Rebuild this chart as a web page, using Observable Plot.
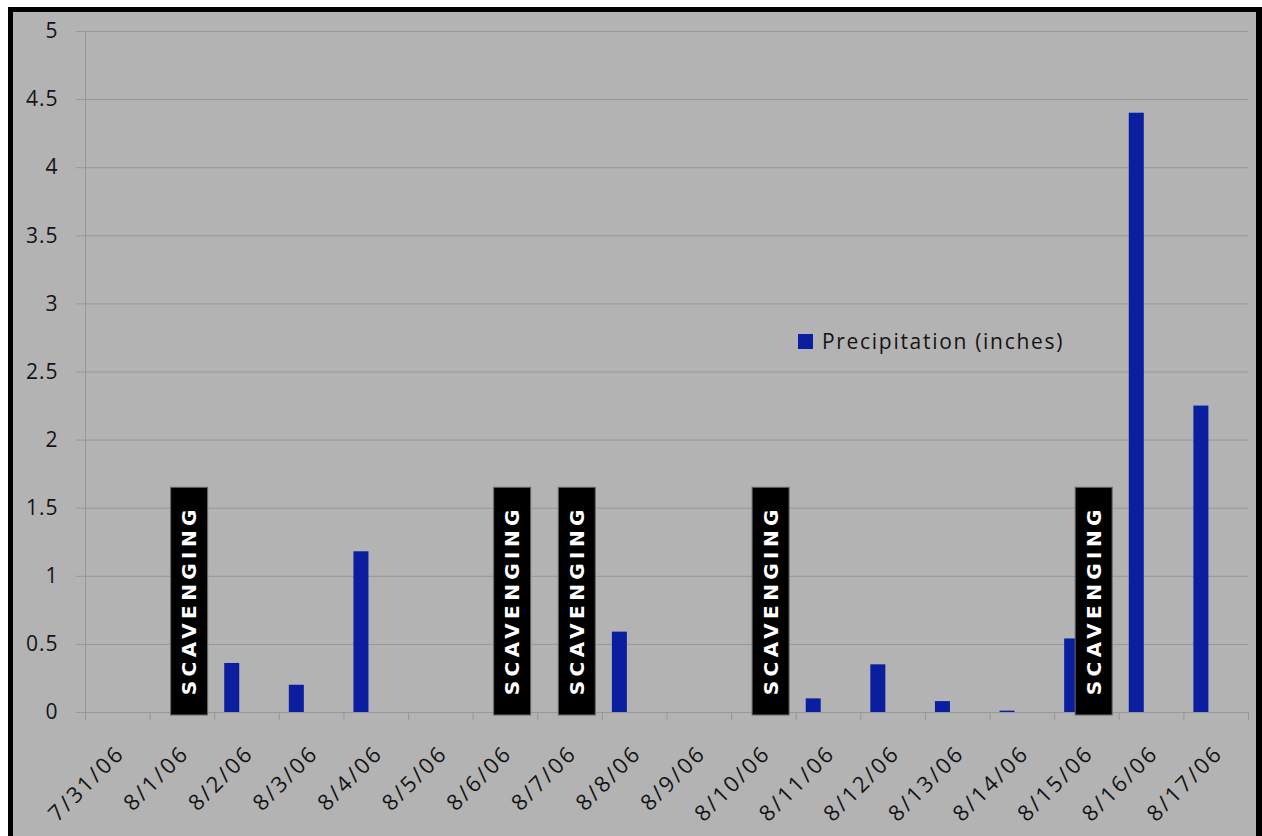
<!DOCTYPE html>
<html>
<head>
<meta charset="utf-8">
<script src="https://cdn.jsdelivr.net/npm/d3@7"></script>
<script src="https://cdn.jsdelivr.net/npm/@observablehq/plot@0.6"></script>
<style>
  html, body { margin: 0; padding: 0; background: #fff; overflow: hidden; }
  #wrap { position: relative; width: 1262px; height: 836px; background: #b3b3b3; }
  #wrap svg { position: absolute; left: 0; top: 0; }
  #edge { position: absolute; left: 0; top: 0; width: 1262px; height: 836px; box-sizing: border-box;
          border-left: 8px solid #fff; border-top: 7px solid #fff; pointer-events: none; }
  #frame { position: absolute; left: 8px; top: 7px; width: 1254px; height: 840px; box-sizing: border-box;
           border-left: 5px solid #000; border-top: 5px solid #000; border-right: 6px solid #000; pointer-events: none; }
  #legend { position: absolute; left: 798px; top: 327px; display: flex; align-items: center;
            font-family: "Open Sans", sans-serif; font-size: 21px; letter-spacing: 1.7px; color: #141414; }
  #legend .swatch { width: 15px; height: 15px; margin-right: 9px; }
</style>
</head>
<body>
<div id="wrap"></div>
<script>
// Daily precipitation record, late July to mid August 2006
const dates = ["7/31/06", "8/1/06", "8/2/06", "8/3/06", "8/4/06", "8/5/06", "8/6/06", "8/7/06", "8/8/06",
               "8/9/06", "8/10/06", "8/11/06", "8/12/06", "8/13/06", "8/14/06", "8/15/06", "8/16/06", "8/17/06"];
const precipitation = [0, 0, 0.36, 0.2, 1.18, 0, 0, 0, 0.59, 0, 0, 0.1, 0.35, 0.08, 0.01, 0.54, 4.4, 2.25];
const seriesName = "Precipitation (inches)";

// Days flagged with a scavenging event
const scavengingDates = ["8/1/06", "8/6/06", "8/7/06", "8/10/06", "8/15/06"];
const scavengingLabel = "SCAVENGING";
const scavengingHeight = 1.65;

const yTicks = [0, 0.5, 1, 1.5, 2, 2.5, 3, 3.5, 4, 4.5, 5];

const width = 1262, height = 836;
const marginLeft = 85, marginRight = 14, marginTop = 31, marginBottom = 124;
const bw = (width - marginLeft - marginRight) / dates.length;

const barColor = "#0b1e9f";
const lineColor = "#979797";
const textColor = "#141414";
const font = "'Open Sans', sans-serif";

const rows = dates.map((date, i) => ({date, value: precipitation[i]}));

const chart = Plot.plot({
  width, height, marginLeft, marginRight, marginTop, marginBottom,
  style: {background: "transparent", fontFamily: font},
  x: {type: "band", domain: dates, paddingInner: 0, paddingOuter: 0, round: false},
  y: {domain: [0, 5]},
  marks: [
    Plot.gridY(yTicks, {stroke: lineColor, strokeOpacity: 1}),
    Plot.axisY(yTicks, {tickSize: 9, tickPadding: 18, tickFormat: d => String(d),
                        stroke: lineColor, fill: textColor, fontSize: 21, label: null}),
    // category boundary ticks
    Plot.axisX(dates, {tickSize: 8, dx: -bw / 2, stroke: lineColor, fill: "none", label: null}),
    Plot.axisX(dates.slice(-1), {tickSize: 8, dx: bw / 2, stroke: lineColor, fill: "none", label: null}),
    Plot.axisX(dates, {tickSize: 0, tickPadding: 37, tickRotate: -45, dx: 3, fontSize: 22,
                       fill: textColor, label: null}),
    Plot.ruleX(dates.slice(0, 1), {dx: -bw / 2, stroke: lineColor}),
    Plot.ruleY([0], {stroke: lineColor}),
    Plot.barY(rows, {x: "date", y: "value", fill: barColor, insetLeft: 10, insetRight: bw - 25}),
    Plot.barY(scavengingDates, {x: d => d, y: () => scavengingHeight, fill: "#000",
                                stroke: "#6a6a6a", strokeWidth: 1,
                                insetLeft: 21, insetRight: bw - 58, insetBottom: -3}),
    Plot.text(scavengingDates, {x: d => d, y: () => scavengingHeight / 2, text: () => scavengingLabel,
                                rotate: -90, dx: 39.5 - bw / 2, fill: "#fff", fontSize: 20,
                                fontWeight: "bold", fontFamily: "'DejaVu Sans', sans-serif"})
  ]
});

// widen the lettering of the event labels and the tick labels
const texts = d3.select(chart).selectAll("text");
texts.filter(function () { return this.textContent === scavengingLabel; })
  .attr("letter-spacing", "4.4px");
texts.filter(function () { return dates.includes(this.textContent); })
  .attr("letter-spacing", "2.5px");
texts.filter(function () { return yTicks.map(String).includes(this.textContent); })
  .attr("letter-spacing", "1px");

const wrap = document.getElementById("wrap");
wrap.appendChild(chart);

const legend = document.createElement("div");
legend.id = "legend";
legend.innerHTML = `<div class="swatch" style="background:${barColor}"></div><span></span>`;
legend.querySelector("span").textContent = seriesName;
wrap.appendChild(legend);

for (const id of ["edge", "frame"]) {
  const d = document.createElement("div");
  d.id = id;
  wrap.appendChild(d);
}
</script>
</body>
</html>
